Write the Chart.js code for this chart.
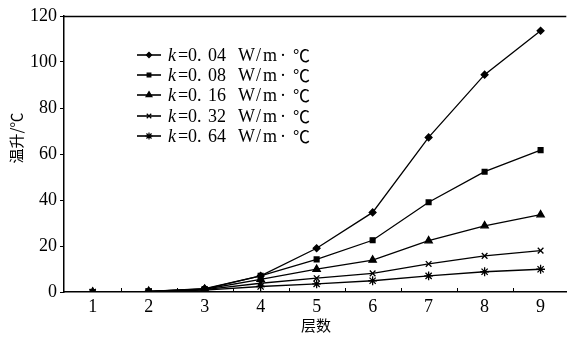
<!DOCTYPE html>
<html><head><meta charset="utf-8">
<script src="https://cdn.jsdelivr.net/npm/chart.js@4/dist/chart.umd.min.js"></script>
<style>html,body{margin:0;padding:0;background:#fff}#c{display:block}</style>
</head><body>
<canvas id="c" width="572" height="338"></canvas>
<script>
const categories = [1, 2, 3, 4, 5, 6, 7, 8, 9];
const k004 = [0, 0.3, 1.5, 7, 19, 34.6, 67.2, 94.5, 113.6];
const k008 = [0, 0.3, 1.3, 7, 14.2, 22.5, 39, 52.3, 61.7];
const k016 = [0, 0.3, 1.2, 5.5, 9.9, 13.9, 22.3, 28.8, 33.6];
const k032 = [0, 0.2, 1.0, 3.8, 6, 8.1, 12.2, 15.7, 18];
const k064 = [0, 0.2, 0.8, 2.4, 3.5, 4.9, 7, 8.8, 9.9];
const seriesNames = [['0.', '04'], ['0.', '08'], ['0.', '16'], ['0.', '32'], ['0.', '64']];
const yTicks = [0, 20, 40, 60, 80, 100, 120];
const xTitle = '层数';
const yTitle = '温升/℃';

const styles = [
  {pointStyle:'rectRot', radius:3.4},
  {pointStyle:'rect', radius:3.4},
  {pointStyle:'triangle', radius:4.2},
  {pointStyle:'crossRot', radius:4},
  {pointStyle:'star', radius:4.4}
];
const allData = [k004, k008, k016, k032, k064];
const datasets = allData.map((d, i) => ({
  label: seriesNames[i].join(' '),
  parts: seriesNames[i],
  data: d.map((v, j) => ({x: categories[j], y: v})),
  borderColor: '#000', backgroundColor: '#000',
  borderWidth: 1.3, pointBorderWidth: 1.3,
  pointStyle: styles[i].pointStyle, pointRadius: styles[i].radius,
  tension: 0, fill: false
}));

const serif = '"Liberation Serif", "DejaVu Serif", serif';
const cjk = '"Noto Sans CJK SC", sans-serif';

const deco = {
  id: 'deco',
  afterDraw(chart) {
    const ctx = chart.ctx, a = chart.chartArea, xs = chart.scales.x;
    ctx.save();
    ctx.strokeStyle = '#000';
    ctx.lineWidth = 1.5;
    ctx.beginPath(); ctx.moveTo(a.left, a.top + 0.5); ctx.lineTo(a.right, a.top + 0.5); ctx.stroke();
    ctx.lineWidth = 1;
    for (let i = 0; i < categories.length - 1; i++) {
      const px = Math.round(xs.getPixelForValue((categories[i] + categories[i+1]) / 2)) + 0.5;
      ctx.beginPath(); ctx.moveTo(px, a.bottom); ctx.lineTo(px, a.bottom - 4); ctx.stroke();
    }
    // legend
    const lx0 = 137, lx1 = 161, rows = [55, 75, 95, 116, 136];
    datasets.forEach((ds, i) => {
      const y = rows[i];
      ctx.strokeStyle = '#000'; ctx.lineWidth = 1.6;
      ctx.beginPath(); ctx.moveTo(lx0, y); ctx.lineTo(lx1, y); ctx.stroke();
      ctx.fillStyle = '#000'; ctx.lineWidth = 1.2;
      Chart.helpers.drawPoint(ctx, {pointStyle: ds.pointStyle, radius: ds.pointRadius - 0.8, borderWidth: 1.2}, (lx0 + lx1) / 2, y);
      ctx.fillStyle = '#000';
      ctx.textBaseline = 'middle'; ctx.textAlign = 'left';
      const ty = y + 1;
      ctx.font = 'italic 18px ' + serif;
      ctx.fillText('k', 168, ty);
      ctx.font = '18px ' + serif;
      ctx.fillText('=', 178, ty);
      ctx.fillText(ds.parts[0], 188, ty);
      ctx.fillText(ds.parts[1], 208, ty);
      ctx.fillText('W', 238, ty);
      ctx.fillText('/', 256, ty);
      ctx.fillText('m', 263, ty);
      ctx.fillText('·', 280, ty);
      ctx.font = '17px ' + cjk;
      ctx.fillText('℃', 293, ty);
    });
    // axis titles
    ctx.fillStyle = '#000';
    ctx.font = '15px ' + cjk;
    ctx.textAlign = 'center'; ctx.textBaseline = 'middle';
    ctx.fillText(xTitle, 316, 325);
    ctx.save();
    ctx.translate(16, 138); ctx.rotate(-Math.PI / 2);
    ctx.fillText(yTitle, 0, 0);
    ctx.restore();
    ctx.restore();
  }
};

new Chart(document.getElementById('c'), {
  type: 'line',
  data: { datasets },
  plugins: [deco],
  options: {
    responsive: false, animation: false,
    layout: { padding: { left: 0, right: 0, top: 16, bottom: 0 } },
    plugins: { legend: { display: false }, tooltip: { enabled: false } },
    scales: {
      x: {
        type: 'linear', min: 0.488, max: 9.459,
        afterBuildTicks: ax => { ax.ticks = categories.map(v => ({value: v})); },
        afterFit: ax => { ax.height = 46; },
        grid: { display: false, drawTicks: false },
        border: { display: true, color: '#000', width: 1.5 },
        ticks: { color: '#000', font: { family: serif, size: 18 }, padding: 4, autoSkip: false, maxRotation: 0 }
      },
      y: {
        min: 0, max: 120,
        afterBuildTicks: ax => { ax.ticks = yTicks.map(v => ({value: v})); },
        afterFit: ax => { ax.width = 64; },
        grid: { drawOnChartArea: false, drawTicks: true, tickLength: 4, color: '#000' },
        border: { display: true, color: '#000', width: 1.5 },
        ticks: { color: '#000', font: { family: serif, size: 18 }, padding: 3 }
      }
    }
  }
});
</script>
</body></html>
